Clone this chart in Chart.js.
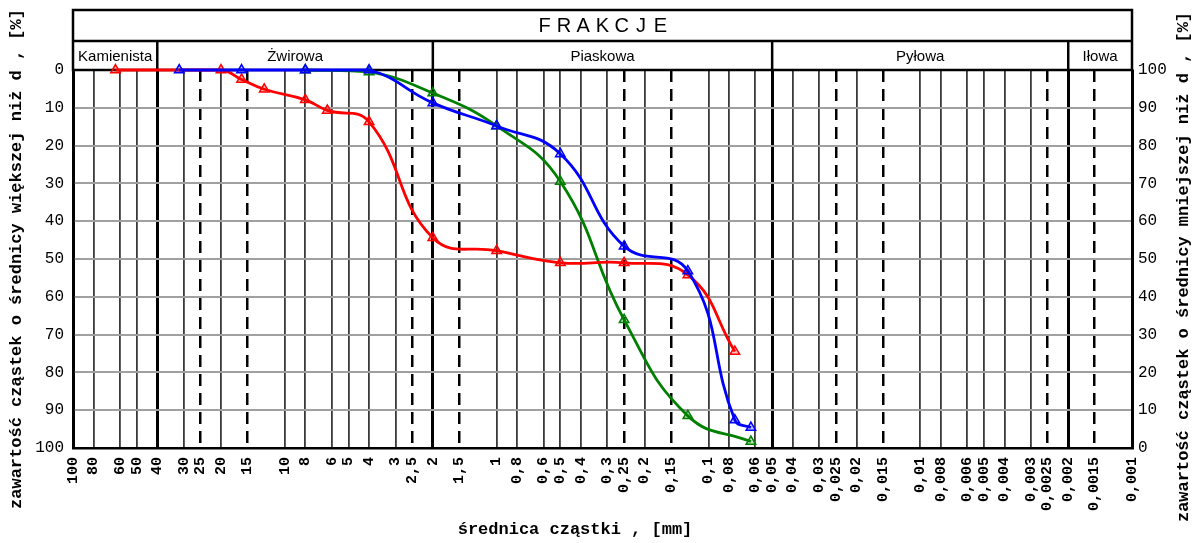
<!DOCTYPE html>
<html>
<head>
<meta charset="utf-8">
<script src="https://cdn.jsdelivr.net/npm/chart.js@4.4.0/dist/chart.umd.min.js"></script>
<style>
body { margin: 0; background: #fff; }
#holder { width: 1200px; height: 543px; }
</style>
</head>
<body>
<div id="holder"><canvas id="chart" width="1200" height="543"></canvas></div>
<script>
// sieve sizes [mm] and passing/retained values [%] for the three samples
var redSizes = [63, 20, 16, 12.5, 8, 6.3, 4, 2, 1, 0.5, 0.25, 0.125, 0.075];
var redValues = [0, 0, 2.5, 5.1, 7.9, 10.7, 13.7, 44.4, 47.8, 51.0, 51.0, 54.2, 74.5];

var blueSizes = [31.5, 16, 8, 4, 2, 1, 0.5, 0.25, 0.125, 0.075, 0.063];
var blueValues = [0, 0, 0, 0, 8.7, 14.8, 22.2, 46.6, 53.2, 92.6, 94.6];

var greenSizes = [8, 4, 2, 1, 0.5, 0.25, 0.125, 0.063];
var greenValues = [0, 0.5, 6.1, 14.8, 29.5, 66.1, 91.5, 98.3];

// x axis ticks (diameter, mm)
var xTicks = [100, 80, 60, 50, 40, 30, 25, 20, 15, 10, 8, 6, 5, 4, 3, 2.5, 2, 1.5, 1, 0.8, 0.6, 0.5, 0.4, 0.3, 0.25, 0.2, 0.15,
    0.1, 0.08, 0.06, 0.05, 0.04, 0.03, 0.025, 0.02, 0.015, 0.01, 0.008, 0.006, 0.005, 0.004, 0.003, 0.0025, 0.002, 0.0015, 0.001];
var dashedTicks = [25, 15, 2.5, 1.5, 0.25, 0.15, 0.025, 0.015, 0.0025, 0.0015];

// y axis ticks
var yTicks = [0, 10, 20, 30, 40, 50, 60, 70, 80, 90, 100];

// fractions
var headerTitle = 'FRAKCJE';
var fractionNames = ['Kamienista', 'Żwirowa', 'Piaskowa', 'Pyłowa', 'Iłowa'];
var fractionBounds = [100, 40, 2, 0.05, 0.002, 0.001];

var mono = '"Liberation Mono", "Courier New", monospace';
var sans = '"Liberation Sans", Arial, sans-serif';

function points(sizes, values) {
    return sizes.map(function(s, i) { return {x: s, y: values[i]}; });
}

function series(sizes, values, color, fill) {
    return {
        data: points(sizes, values),
        borderColor: color,
        borderWidth: 2.8,
        pointStyle: 'triangle',
        pointRadius: 5.5,
        pointBorderWidth: 1.5,
        pointBorderColor: color,
        pointBackgroundColor: fill,
        tension: 0.45,
        clip: false
    };
}

function asTicks(list) {
    return function(scale) {
        scale.ticks = list.map(function(v) { return {value: v}; });
    };
}

// header with fraction names, drawn under the curves
var headerPlugin = {
    id: 'header',
    beforeDatasetsDraw: function(chart) {
        var ctx = chart.ctx, xs = chart.scales.x, a = chart.chartArea;
        var top = 10, mid = 41;
        ctx.save();
        ctx.strokeStyle = '#000';
        ctx.lineWidth = 2.5;
        ctx.beginPath();
        ctx.rect(a.left, top, a.right - a.left, a.top - top);
        ctx.moveTo(a.left, mid);
        ctx.lineTo(a.right, mid);
        for (var i = 1; i < fractionBounds.length - 1; i++) {
            var px = xs.getPixelForValue(fractionBounds[i]);
            ctx.moveTo(px, mid);
            ctx.lineTo(px, a.top);
        }
        ctx.stroke();

        ctx.fillStyle = '#000';
        ctx.textAlign = 'center';
        ctx.textBaseline = 'middle';

        //spaced out title letters
        ctx.font = '20px ' + sans;
        var cx = (a.left + a.right) / 2, n = headerTitle.length;
        for (var k = 0; k < n; k++) {
            ctx.fillText(headerTitle[k], cx + (k - (n - 1) / 2) * 19.3, (top + mid) / 2 + 1);
        }

        ctx.font = '15px ' + sans;
        for (var j = 0; j < fractionNames.length; j++) {
            var x0 = xs.getPixelForValue(fractionBounds[j]);
            var x1 = xs.getPixelForValue(fractionBounds[j + 1]);
            ctx.fillText(fractionNames[j], (x0 + x1) / 2, (mid + a.top) / 2 + 1);
        }
        ctx.restore();
    }
};

// axis titles
var titlesPlugin = {
    id: 'titles',
    afterDraw: function(chart) {
        var ctx = chart.ctx, a = chart.chartArea;
        var cy = (a.top + a.bottom) / 2;
        ctx.save();
        ctx.fillStyle = '#000';
        ctx.font = 'bold 17px ' + mono;
        ctx.textAlign = 'center';
        ctx.textBaseline = 'middle';

        ctx.save();
        ctx.translate(17, cy);
        ctx.rotate(-Math.PI / 2);
        ctx.fillText('zawartość cząstek o średnicy większej niż d , [%]', 0, 0);
        ctx.restore();

        ctx.save();
        ctx.translate(1184, cy + 8);
        ctx.rotate(-Math.PI / 2);
        ctx.fillText('zawartość cząstek o średnicy mniejszej niż d , [%]', 0, 0);
        ctx.restore();

        ctx.fillText('średnica cząstki , [mm]', 575, 530);
        ctx.restore();
    }
};

var data = {
    datasets: [
        series(blueSizes, blueValues, '#0000ff', 'rgba(0,0,255,0.25)'),
        series(redSizes, redValues, '#ff0000', 'rgba(255,0,0,0.25)'),
        series(greenSizes, greenValues, '#008000', 'rgba(0,128,0,0.25)')
    ]
};

var options = {
    responsive: false,
    animation: false,
    devicePixelRatio: 1,
    layout: { padding: { top: 70, left: 0, right: 0, bottom: 0 } },
    plugins: {
        legend: { display: false },
        tooltip: { enabled: false }
    },
    scales: {
        x: {
            type: 'logarithmic',
            reverse: true,
            min: 0.001,
            max: 100,
            afterBuildTicks: asTicks(xTicks),
            afterFit: function(s) { s.height = 95; },
            grid: {
                drawTicks: false,
                color: function(c) {
                    var v = c.tick && c.tick.value;
                    if (fractionBounds.indexOf(v) >= 0 || dashedTicks.indexOf(v) >= 0) return '#000';
                    return '#3a3a3a';
                },
                lineWidth: function(c) {
                    var v = c.tick && c.tick.value;
                    if (fractionBounds.indexOf(v) >= 0) return 3;
                    if (dashedTicks.indexOf(v) >= 0) return 2.5;
                    return 1.8;
                }
            },
            border: {
                color: '#000',
                width: 2.5,
                dash: function(c) {
                    var v = c.tick && c.tick.value;
                    return dashedTicks.indexOf(v) >= 0 ? [12, 7] : [];
                }
            },
            ticks: {
                autoSkip: false,
                minRotation: 90,
                maxRotation: 90,
                padding: 9,
                color: '#000',
                font: { family: mono, size: 15, weight: 'bold' },
                callback: function(v) { return String(v).replace('.', ','); }
            }
        },
        y: {
            position: 'left',
            reverse: true,
            min: 0,
            max: 100,
            afterBuildTicks: asTicks(yTicks),
            afterFit: function(s) { s.width = 73; },
            grid: { drawTicks: false, color: '#a0a0a0', lineWidth: 2 },
            border: { color: '#000', width: 2.5 },
            ticks: {
                padding: 9,
                color: '#000',
                font: { family: mono, size: 16 }
            }
        },
        y2: {
            position: 'right',
            min: 0,
            max: 100,
            afterBuildTicks: asTicks(yTicks),
            afterFit: function(s) { s.width = 68; },
            grid: { drawTicks: false, drawOnChartArea: false },
            border: { color: '#000', width: 2.5 },
            ticks: {
                padding: 6,
                color: '#000',
                font: { family: mono, size: 16 }
            }
        }
    }
};

var canvas = document.getElementById('chart');
new Chart(canvas.getContext('2d'), {
    type: 'line',
    data: data,
    options: options,
    plugins: [headerPlugin, titlesPlugin]
});
</script>
</body>
</html>
